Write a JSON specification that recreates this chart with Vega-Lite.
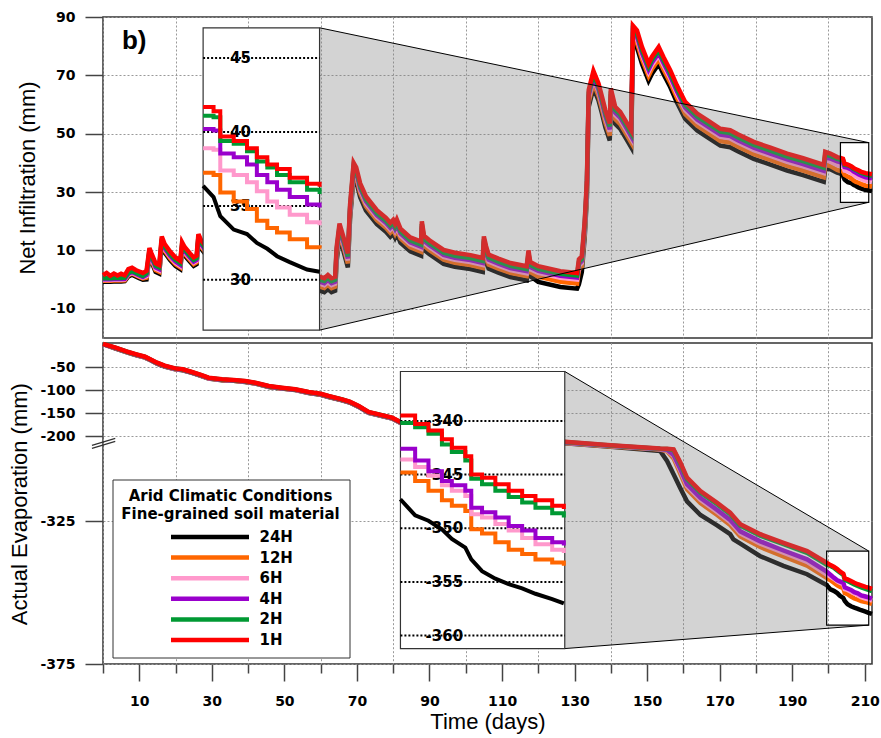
{
"$schema": "https://vega.github.io/schema/vega-lite/v6.json",
"padding": {"left": 8, "top": 9, "right": 5, "bottom": 5},
"spacing": -5,
"datasets": {
"top": [
{"t":0,"1H":1.5,"2H":0.5,"4H":0.1,"6H":-0.1,"12H":-0.4,"24H":-0.7},
{"t":1,"1H":2.3,"2H":0.5,"4H":0.1,"6H":-0.1,"12H":-0.4,"24H":-0.7},
{"t":2,"1H":1.3,"2H":0.5,"4H":0.1,"6H":-0.1,"12H":-0.4,"24H":-0.7},
{"t":3,"1H":2.1,"2H":0.6,"4H":0.2,"6H":0.0,"12H":-0.3,"24H":-0.6},
{"t":4,"1H":1.4,"2H":0.6,"4H":0.2,"6H":0.0,"12H":-0.3,"24H":-0.6},
{"t":5,"1H":2.0,"2H":0.6,"4H":0.2,"6H":0.0,"12H":-0.3,"24H":-0.6},
{"t":6,"1H":1.5,"2H":0.7,"4H":0.3,"6H":0.1,"12H":-0.2,"24H":-0.5},
{"t":7,"1H":3.6,"2H":2.4,"4H":2.0,"6H":1.8,"12H":1.5,"24H":1.1},
{"t":8,"1H":4.1,"2H":3.0,"4H":2.6,"6H":2.4,"12H":2.1,"24H":1.7},
{"t":9,"1H":3.3,"2H":2.4,"4H":2.0,"6H":1.8,"12H":1.5,"24H":1.1},
{"t":10,"1H":2.8,"2H":1.8,"4H":1.4,"6H":1.2,"12H":0.9,"24H":0.5},
{"t":11,"1H":2.3,"2H":1.3,"4H":0.9,"6H":0.7,"12H":0.4,"24H":0.0},
{"t":12,"1H":3.0,"2H":2.2,"4H":1.6,"6H":1.2,"12H":0.7,"24H":0.1},
{"t":12.8,"1H":10.8,"2H":10.0,"4H":9.4,"6H":9.0,"12H":8.5,"24H":7.9},
{"t":13.3,"1H":9.2,"2H":8.4,"4H":7.8,"6H":7.4,"12H":6.9,"24H":6.3},
{"t":14.5,"1H":5.6,"2H":4.8,"4H":4.2,"6H":3.8,"12H":3.3,"24H":2.7},
{"t":15.5,"1H":5.0,"2H":4.2,"4H":3.6,"6H":3.2,"12H":2.7,"24H":2.1},
{"t":16.2,"1H":14.8,"2H":14.0,"4H":13.4,"6H":13.0,"12H":12.5,"24H":11.9},
{"t":17,"1H":12.2,"2H":11.4,"4H":10.8,"6H":10.4,"12H":9.9,"24H":9.3},
{"t":18.5,"1H":9.6,"2H":8.8,"4H":8.2,"6H":7.8,"12H":7.3,"24H":6.7},
{"t":20,"1H":7.6,"2H":6.8,"4H":6.2,"6H":5.8,"12H":5.3,"24H":4.7},
{"t":21.3,"1H":6.5,"2H":5.7,"4H":5.1,"6H":4.7,"12H":4.2,"24H":3.6},
{"t":21.8,"1H":12.8,"2H":12.0,"4H":11.4,"6H":11.0,"12H":10.5,"24H":9.9},
{"t":22.5,"1H":11.2,"2H":10.4,"4H":9.8,"6H":9.4,"12H":8.9,"24H":8.3},
{"t":24,"1H":9.0,"2H":8.2,"4H":7.6,"6H":7.2,"12H":6.7,"24H":6.1},
{"t":25,"1H":7.6,"2H":6.8,"4H":6.2,"6H":5.8,"12H":5.3,"24H":4.7},
{"t":25.8,"1H":8.2,"2H":7.4,"4H":6.8,"6H":6.4,"12H":5.9,"24H":5.3},
{"t":26.3,"1H":15.6,"2H":14.8,"4H":14.2,"6H":13.8,"12H":13.3,"24H":12.7},
{"t":27,"1H":13.6,"2H":12.8,"4H":12.2,"6H":11.8,"12H":11.3,"24H":10.7},
{"t":28,"1H":12.0,"2H":11.2,"4H":10.6,"6H":10.2,"12H":9.7,"24H":9.1},
{"t":35,"1H":8.0,"2H":7.0,"4H":6.3,"6H":5.6,"12H":4.6,"24H":3.2},
{"t":45,"1H":4.0,"2H":3.0,"4H":2.3,"6H":1.6,"12H":0.6,"24H":-0.8},
{"t":55,"1H":2.0,"2H":1.0,"4H":0.3,"6H":-0.4,"12H":-1.4,"24H":-2.8},
{"t":59.7,"1H":1.0,"2H":0.0,"4H":-0.7,"6H":-1.4,"12H":-2.4,"24H":-3.8},
{"t":61,"1H":0.5,"2H":-0.5,"4H":-1.2,"6H":-1.9,"12H":-2.9,"24H":-4.3},
{"t":62,"1H":1.6,"2H":0.6,"4H":-0.1,"6H":-0.8,"12H":-1.8,"24H":-3.2},
{"t":63,"1H":0.5,"2H":-0.5,"4H":-1.2,"6H":-1.9,"12H":-2.9,"24H":-4.3},
{"t":64,"1H":1.0,"2H":0.0,"4H":-0.7,"6H":-1.4,"12H":-2.4,"24H":-3.8},
{"t":64.4,"1H":11.0,"2H":10.0,"4H":9.3,"6H":8.6,"12H":7.6,"24H":6.2},
{"t":65.2,"1H":19.2,"2H":18.2,"4H":17.5,"6H":16.8,"12H":15.8,"24H":14.4},
{"t":66.2,"1H":15.0,"2H":14.0,"4H":13.3,"6H":12.6,"12H":11.6,"24H":10.2},
{"t":67.5,"1H":9.0,"2H":8.0,"4H":7.3,"6H":6.6,"12H":5.6,"24H":4.2},
{"t":68.1,"1H":25.5,"2H":24.5,"4H":23.8,"6H":23.1,"12H":22.1,"24H":20.7},
{"t":69.1,"1H":40.0,"2H":39.0,"4H":38.3,"6H":37.6,"12H":36.6,"24H":35.2},
{"t":69.8,"1H":38.5,"2H":37.5,"4H":36.8,"6H":36.1,"12H":35.1,"24H":33.7},
{"t":70.9,"1H":33.0,"2H":32.0,"4H":31.3,"6H":30.6,"12H":29.6,"24H":28.2},
{"t":72.5,"1H":28.5,"2H":27.5,"4H":26.8,"6H":26.1,"12H":25.1,"24H":23.7},
{"t":75.5,"1H":23.8,"2H":22.8,"4H":22.1,"6H":21.4,"12H":20.4,"24H":19.0},
{"t":78,"1H":21.2,"2H":20.2,"4H":19.5,"6H":18.8,"12H":17.8,"24H":16.4},
{"t":79.2,"1H":19.5,"2H":18.5,"4H":17.8,"6H":17.1,"12H":16.1,"24H":14.7},
{"t":80,"1H":20.5,"2H":19.5,"4H":18.8,"6H":18.1,"12H":17.1,"24H":15.7},
{"t":80.5,"1H":19.2,"2H":18.2,"4H":17.5,"6H":16.8,"12H":15.8,"24H":14.4},
{"t":81,"1H":20.6,"2H":19.6,"4H":18.9,"6H":18.2,"12H":17.2,"24H":15.8},
{"t":82,"1H":17.5,"2H":16.5,"4H":15.8,"6H":15.1,"12H":14.1,"24H":12.7},
{"t":84.7,"1H":14.5,"2H":13.5,"4H":12.8,"6H":12.1,"12H":11.1,"24H":9.7},
{"t":87.7,"1H":13.0,"2H":12.0,"4H":11.3,"6H":10.6,"12H":9.6,"24H":8.2},
{"t":87.9,"1H":20.0,"2H":19.0,"4H":18.3,"6H":17.6,"12H":16.6,"24H":15.2},
{"t":88.5,"1H":15.0,"2H":14.0,"4H":13.3,"6H":12.6,"12H":11.6,"24H":10.2},
{"t":90,"1H":13.5,"2H":12.5,"4H":11.8,"6H":11.1,"12H":10.1,"24H":8.7},
{"t":93.9,"1H":10.2,"2H":9.2,"4H":8.5,"6H":7.8,"12H":6.8,"24H":5.4},
{"t":97,"1H":9.2,"2H":8.2,"4H":7.5,"6H":6.8,"12H":5.8,"24H":4.4},
{"t":101.3,"1H":8.4,"2H":7.4,"4H":6.7,"6H":6.0,"12H":5.0,"24H":3.6},
{"t":104.7,"1H":7.4,"2H":6.4,"4H":5.7,"6H":5.0,"12H":4.0,"24H":2.6},
{"t":105.0,"1H":14.8,"2H":13.8,"4H":13.1,"6H":12.4,"12H":11.4,"24H":10.0},
{"t":105.6,"1H":11.5,"2H":10.5,"4H":9.8,"6H":9.1,"12H":8.1,"24H":6.7},
{"t":106.3,"1H":8.6,"2H":7.6,"4H":6.9,"6H":6.2,"12H":5.2,"24H":3.8},
{"t":109,"1H":7.2,"2H":6.2,"4H":5.5,"6H":4.8,"12H":3.8,"24H":2.4},
{"t":112.3,"1H":5.7,"2H":4.7,"4H":4.0,"6H":3.3,"12H":2.3,"24H":0.9},
{"t":116.8,"1H":4.6,"2H":3.6,"4H":2.9,"6H":2.2,"12H":1.2,"24H":-0.2},
{"t":117.3,"1H":10.0,"2H":9.0,"4H":8.3,"6H":7.6,"12H":6.6,"24H":5.2},
{"t":117.8,"1H":6.0,"2H":5.0,"4H":4.3,"6H":3.6,"12H":2.6,"24H":1.2},
{"t":120,"1H":4.6,"2H":3.7,"4H":3.0,"6H":2.3,"12H":1.0,"24H":-0.8},
{"t":126.1,"1H":2.9,"2H":2.0,"4H":1.3,"6H":0.6,"12H":-0.7,"24H":-2.5},
{"t":130.7,"1H":2.3,"2H":1.4,"4H":0.7,"6H":0.0,"12H":-1.3,"24H":-3.1},
{"t":131.2,"1H":7.0,"2H":6.1,"4H":5.4,"6H":4.7,"12H":3.4,"24H":-1.6},
{"t":132.0,"1H":8.0,"2H":7.1,"4H":6.4,"6H":5.7,"12H":4.4,"24H":2.6},
{"t":132.8,"1H":20.0,"2H":19.1,"4H":18.4,"6H":17.7,"12H":16.4,"24H":14.6},
{"t":133.4,"1H":34.0,"2H":33.0,"4H":32.0,"6H":31.2,"12H":29.8,"24H":28.2},
{"t":133.9,"1H":65.0,"2H":64.0,"4H":63.0,"6H":62.2,"12H":60.8,"24H":59.2},
{"t":135.2,"1H":71.5,"2H":70.5,"4H":69.5,"6H":68.7,"12H":67.3,"24H":65.7},
{"t":136.6,"1H":67.2,"2H":66.2,"4H":65.2,"6H":64.4,"12H":63.0,"24H":61.4},
{"t":137.5,"1H":63.0,"2H":62.0,"4H":61.0,"6H":60.2,"12H":58.8,"24H":57.2},
{"t":138.5,"1H":58.0,"2H":57.0,"4H":56.0,"6H":55.2,"12H":53.8,"24H":52.2},
{"t":139.7,"1H":53.5,"2H":52.5,"4H":51.5,"6H":50.7,"12H":49.3,"24H":47.7},
{"t":140.0,"1H":65.5,"2H":64.5,"4H":63.5,"6H":62.7,"12H":61.3,"24H":59.7},
{"t":141.2,"1H":59.2,"2H":58.2,"4H":57.2,"6H":56.4,"12H":55.0,"24H":53.4},
{"t":142.6,"1H":57.5,"2H":56.5,"4H":55.5,"6H":54.7,"12H":53.3,"24H":51.7},
{"t":144.0,"1H":54.6,"2H":53.6,"4H":52.6,"6H":51.8,"12H":50.4,"24H":48.8},
{"t":145.6,"1H":51.2,"2H":50.2,"4H":49.2,"6H":48.4,"12H":47.0,"24H":45.4},
{"t":146.1,"1H":87.0,"2H":86.0,"4H":85.0,"6H":84.2,"12H":82.8,"24H":81.2},
{"t":147.2,"1H":85.4,"2H":84.4,"4H":83.4,"6H":82.6,"12H":81.2,"24H":79.6},
{"t":148.6,"1H":79.7,"2H":78.7,"4H":77.7,"6H":76.9,"12H":75.5,"24H":73.9},
{"t":150.4,"1H":74.0,"2H":73.0,"4H":72.0,"6H":71.2,"12H":69.8,"24H":68.2},
{"t":151.3,"1H":76.3,"2H":75.3,"4H":74.3,"6H":73.5,"12H":72.1,"24H":70.5},
{"t":153.2,"1H":79.7,"2H":78.7,"4H":77.7,"6H":76.9,"12H":75.5,"24H":73.9},
{"t":154.5,"1H":76.3,"2H":75.3,"4H":74.3,"6H":73.5,"12H":72.1,"24H":70.5},
{"t":156.4,"1H":71.7,"2H":70.7,"4H":69.7,"6H":68.9,"12H":67.5,"24H":65.9},
{"t":158.2,"1H":66.6,"2H":65.6,"4H":64.6,"6H":63.8,"12H":62.4,"24H":60.8},
{"t":160.5,"1H":60.9,"2H":59.9,"4H":58.9,"6H":58.1,"12H":56.7,"24H":55.1},
{"t":163.8,"1H":56.9,"2H":55.9,"4H":54.9,"6H":54.1,"12H":52.7,"24H":51.1},
{"t":167,"1H":54.3,"2H":53.3,"4H":52.3,"6H":51.5,"12H":50.1,"24H":48.5},
{"t":170.2,"1H":51.7,"2H":50.7,"4H":49.7,"6H":48.9,"12H":47.5,"24H":45.9},
{"t":172.9,"1H":51.2,"2H":50.2,"4H":49.2,"6H":48.4,"12H":47.0,"24H":45.4},
{"t":175,"1H":49.8,"2H":48.8,"4H":47.8,"6H":47.0,"12H":45.6,"24H":44.0},
{"t":179.4,"1H":47.2,"2H":46.2,"4H":45.2,"6H":44.4,"12H":43.0,"24H":41.4},
{"t":184,"1H":45.2,"2H":44.2,"4H":43.2,"6H":42.4,"12H":41.0,"24H":39.4},
{"t":188.6,"1H":43.2,"2H":42.2,"4H":41.2,"6H":40.4,"12H":39.0,"24H":37.4},
{"t":193,"1H":41.6,"2H":40.6,"4H":39.6,"6H":38.8,"12H":37.4,"24H":35.8},
{"t":198.7,"1H":39.3,"2H":38.3,"4H":37.3,"6H":36.5,"12H":35.1,"24H":33.5},
{"t":199.1,"1H":43.8,"2H":42.8,"4H":41.8,"6H":41.0,"12H":39.6,"24H":38.0},
{"t":200.5,"1H":43.2,"2H":42.4,"4H":41.5,"6H":40.4,"12H":38.9,"24H":37.8},
{"t":202.4,"1H":42.0,"2H":41.4,"4H":40.5,"6H":39.2,"12H":37.6,"24H":36.7},
{"t":203.3,"1H":41.7,"2H":41.1,"4H":40.2,"6H":38.9,"12H":37.25,"24H":36.35},
{"t":204.0,"1H":41.4,"2H":41.0,"4H":40.1,"6H":38.8,"12H":37.1,"24H":35.6},
{"t":204.45,"1H":39.7,"2H":39.4,"4H":38.55,"6H":37.4,"12H":35.9,"24H":34.3},
{"t":205.35,"1H":39.4,"2H":39.2,"4H":38.3,"6H":37.1,"12H":35.3,"24H":33.4},
{"t":206.24,"1H":38.9,"2H":38.7,"4H":37.8,"6H":36.6,"12H":34.8,"24H":33.1},
{"t":206.9,"1H":38.3,"2H":38.0,"4H":37.1,"6H":36.0,"12H":34.0,"24H":32.5},
{"t":207.6,"1H":37.8,"2H":37.6,"4H":36.6,"6H":35.3,"12H":33.5,"24H":32.1},
{"t":208.25,"1H":37.5,"2H":37.1,"4H":36.1,"6H":34.9,"12H":33.2,"24H":31.6},
{"t":209.1,"1H":36.9,"2H":36.6,"4H":35.6,"6H":34.4,"12H":32.75,"24H":31.2},
{"t":210.26,"1H":36.5,"2H":36.1,"4H":35.1,"6H":33.9,"12H":32.2,"24H":30.7},
{"t":211.1,"1H":36.3,"2H":35.8,"4H":34.9,"6H":33.7,"12H":32.1,"24H":30.55},
{"t":212,"1H":36.1,"2H":35.6,"4H":34.7,"6H":33.5,"12H":31.9,"24H":30.4}
],
"bot": [
{"t":0,"1H":0,"2H":0,"4H":-0.3,"6H":-0.4,"12H":-0.5,"24H":-0.6},
{"t":3.5,"1H":-8,"2H":-8.5,"4H":-9,"6H":-9.2,"12H":-9.5,"24H":-10},
{"t":7,"1H":-17.5,"2H":-18,"4H":-18.5,"6H":-18.7,"12H":-19,"24H":-19.5},
{"t":9,"1H":-22,"2H":-22.5,"4H":-23,"6H":-23.2,"12H":-23.5,"24H":-24},
{"t":11.6,"1H":-27.7,"2H":-28.2,"4H":-28.7,"6H":-28.9,"12H":-29.2,"24H":-29.7},
{"t":13,"1H":-33,"2H":-33.5,"4H":-34,"6H":-34.2,"12H":-34.5,"24H":-35},
{"t":14.9,"1H":-40.7,"2H":-41.2,"4H":-41.7,"6H":-41.9,"12H":-42.2,"24H":-42.7},
{"t":17,"1H":-47,"2H":-47.5,"4H":-48,"6H":-48.2,"12H":-48.5,"24H":-49},
{"t":19.9,"1H":-52.9,"2H":-53.4,"4H":-53.9,"6H":-54.1,"12H":-54.4,"24H":-54.9},
{"t":22,"1H":-55,"2H":-55.5,"4H":-56,"6H":-56.2,"12H":-56.5,"24H":-57},
{"t":24.5,"1H":-60.8,"2H":-61.3,"4H":-61.8,"6H":-62,"12H":-62.3,"24H":-62.8},
{"t":27,"1H":-67,"2H":-67.5,"4H":-68,"6H":-68.2,"12H":-68.5,"24H":-69},
{"t":29.1,"1H":-73.1,"2H":-73.6,"4H":-74.1,"6H":-74.3,"12H":-74.6,"24H":-75.1},
{"t":32.8,"1H":-76.6,"2H":-77.1,"4H":-77.6,"6H":-77.8,"12H":-78.1,"24H":-78.6},
{"t":36,"1H":-78,"2H":-78.5,"4H":-79,"6H":-79.2,"12H":-79.5,"24H":-80},
{"t":39.2,"1H":-80.3,"2H":-80.8,"4H":-81.3,"6H":-81.5,"12H":-81.8,"24H":-82.3},
{"t":42,"1H":-84,"2H":-84.5,"4H":-85,"6H":-85.2,"12H":-85.5,"24H":-86},
{"t":45.7,"1H":-91.1,"2H":-91.6,"4H":-92.1,"6H":-92.3,"12H":-92.6,"24H":-93.1},
{"t":49.3,"1H":-94.8,"2H":-95.3,"4H":-95.8,"6H":-96,"12H":-96.3,"24H":-96.8},
{"t":53,"1H":-98,"2H":-98.5,"4H":-99,"6H":-99.2,"12H":-99.5,"24H":-100},
{"t":56.7,"1H":-104.1,"2H":-104.6,"4H":-105.1,"6H":-105.3,"12H":-105.6,"24H":-106.1},
{"t":60,"1H":-108,"2H":-108.5,"4H":-109,"6H":-109.2,"12H":-109.5,"24H":-110},
{"t":62.2,"1H":-112.8,"2H":-113.3,"4H":-113.8,"6H":-114,"12H":-114.3,"24H":-114.8},
{"t":65.9,"1H":-119.9,"2H":-120.4,"4H":-120.9,"6H":-121.1,"12H":-121.4,"24H":-121.9},
{"t":68,"1H":-125,"2H":-125.5,"4H":-126,"6H":-126.2,"12H":-126.5,"24H":-127},
{"t":70.5,"1H":-134.4,"2H":-134.9,"4H":-135.4,"6H":-135.6,"12H":-135.9,"24H":-136.4},
{"t":73.2,"1H":-147.4,"2H":-147.9,"4H":-148.4,"6H":-148.6,"12H":-148.9,"24H":-149.4},
{"t":76,"1H":-152.4,"2H":-152.9,"4H":-153.4,"6H":-153.6,"12H":-153.9,"24H":-154.4},
{"t":79.7,"1H":-159.7,"2H":-160.2,"4H":-160.7,"6H":-160.9,"12H":-161.2,"24H":-161.7},
{"t":82,"1H":-169,"2H":-169.5,"4H":-170,"6H":-170.2,"12H":-170.5,"24H":-171},
{"t":90,"1H":-185,"2H":-185.5,"4H":-186,"6H":-186.2,"12H":-186.5,"24H":-187},
{"t":100,"1H":-199,"2H":-199.5,"4H":-200,"6H":-200.5,"12H":-201,"24H":-202},
{"t":110,"1H":-290,"2H":-290.5,"4H":-291,"6H":-291.5,"12H":-292,"24H":-293},
{"t":120,"1H":-296.5,"2H":-296.6,"4H":-296.7,"6H":-296.8,"12H":-296.9,"24H":-297.0},
{"t":127.3,"1H":-297.2,"2H":-297.3,"4H":-297.4,"6H":-297.5,"12H":-297.6,"24H":-297.7},
{"t":140,"1H":-298.4,"2H":-298.5,"4H":-298.6,"6H":-298.7,"12H":-298.8,"24H":-298.9},
{"t":153.6,"1H":-299.5,"2H":-299.6,"4H":-299.7,"6H":-299.8,"12H":-299.9,"24H":-300.4},
{"t":155.5,"1H":-299.6,"2H":-299.7,"4H":-300.0,"6H":-300.2,"12H":-300.5,"24H":-303.9},
{"t":157.3,"1H":-299.8,"2H":-300.1,"4H":-301.8,"6H":-302.2,"12H":-303.0,"24H":-308.5},
{"t":159.2,"1H":-304.5,"2H":-305.0,"4H":-306.8,"6H":-307.4,"12H":-308.5,"24H":-313.5},
{"t":161.0,"1H":-309.7,"2H":-310.2,"4H":-312.0,"6H":-312.7,"12H":-313.8,"24H":-318.0},
{"t":164.7,"1H":-314.4,"2H":-314.9,"4H":-316.8,"6H":-317.5,"12H":-318.6,"24H":-322.8},
{"t":169.3,"1H":-318.5,"2H":-319.0,"4H":-321.0,"6H":-321.7,"12H":-322.8,"24H":-326.4},
{"t":172.9,"1H":-322.0,"2H":-322.5,"4H":-324.5,"6H":-325.2,"12H":-326.3,"24H":-329.5},
{"t":173.8,"1H":-323.3,"2H":-323.8,"4H":-325.8,"6H":-326.5,"12H":-327.6,"24H":-331.3},
{"t":175.7,"1H":-326.0,"2H":-326.5,"4H":-328.5,"6H":-329.2,"12H":-330.3,"24H":-332.8},
{"t":181.2,"1H":-329.5,"2H":-330.0,"4H":-332.0,"6H":-332.8,"12H":-334.0,"24H":-337.2},
{"t":187.6,"1H":-332.5,"2H":-333.0,"4H":-335.2,"6H":-336.0,"12H":-337.3,"24H":-340.6},
{"t":194.1,"1H":-335.4,"2H":-336.0,"4H":-338.3,"6H":-339.2,"12H":-340.5,"24H":-343.5},
{"t":199.5,"1H":-339.5,"2H":-340.2,"4H":-342.6,"6H":-343.6,"12H":-344.8,"24H":-347.3},
{"t":200.54,"1H":-340.3,"2H":-340.6,"4H":-343.7,"6H":-344.3,"12H":-345.6,"24H":-348.8},
{"t":201.48,"1H":-340.9,"2H":-341.2,"4H":-344.7,"6H":-345.1,"12H":-346.5,"24H":-349.3},
{"t":202.43,"1H":-341.7,"2H":-342.2,"4H":-345.6,"6H":-346.0,"12H":-347.4,"24H":-350.1},
{"t":203.13,"1H":-342.5,"2H":-342.9,"4H":-346.0,"6H":-346.5,"12H":-347.9,"24H":-351.0},
{"t":204.08,"1H":-343.3,"2H":-343.7,"4H":-346.5,"6H":-347.0,"12H":-348.4,"24H":-351.8},
{"t":204.5,"1H":-345.0,"2H":-345.4,"4H":-348.1,"6H":-348.7,"12H":-350.1,"24H":-352.9},
{"t":205.26,"1H":-345.3,"2H":-345.9,"4H":-348.5,"6H":-349.0,"12H":-350.5,"24H":-354.0},
{"t":206.2,"1H":-345.9,"2H":-346.5,"4H":-349.0,"6H":-349.6,"12H":-351.3,"24H":-354.7},
{"t":207.14,"1H":-346.5,"2H":-347.1,"4H":-349.8,"6H":-350.2,"12H":-352.0,"24H":-355.2},
{"t":208.09,"1H":-347.0,"2H":-347.6,"4H":-350.2,"6H":-350.9,"12H":-352.4,"24H":-355.6},
{"t":209.03,"1H":-347.4,"2H":-348.1,"4H":-350.9,"6H":-351.5,"12H":-352.9,"24H":-356.1},
{"t":210.21,"1H":-347.9,"2H":-348.6,"4H":-351.3,"6H":-352.0,"12H":-353.2,"24H":-356.6},
{"t":211.03,"1H":-348.2,"2H":-349.0,"4H":-351.6,"6H":-352.3,"12H":-353.5,"24H":-357.0},
{"t":212,"1H":-348.6,"2H":-349.4,"4H":-352.0,"6H":-352.7,"12H":-353.9,"24H":-357.4}
],
"shadeTop": [
{"part":"a","x":59.7,"top":86.3,"bot":-17.3},
{"part":"a","x":203.3,"top":48.98,"bot":24.24},
{"part":"b","x":203.3,"top":48.98,"bot":46.95},
{"part":"b","x":211.1,"top":46.95,"bot":46.95},
{"part":"c","x":203.3,"top":26.5,"bot":24.24},
{"part":"c","x":211.1,"top":26.5,"bot":26.5}
],
"shadeBot": [
{"part":"a","x":127.3,"top":-59.7,"bot":-369.5},
{"part":"a","x":199.5,"top":-326.7,"bot":-362.4},
{"part":"b","x":199.5,"top":-326.7,"bot":-335.4},
{"part":"b","x":211.1,"top":-335.4,"bot":-335.4},
{"part":"c","x":199.5,"top":-361.3,"bot":-362.4},
{"part":"c","x":211.1,"top":-361.3,"bot":-361.3}
],
"ticksTop": [{"v":30,"label":"30"},{"v":35,"label":"35"},{"v":40,"label":"40"},{"v":45,"label":"45"}],
"ticksBot": [{"v":-340,"label":"-340"},{"v":-345,"label":"-345"},{"v":-350,"label":"-350"},{"v":-355,"label":"-355"},{"v":-360,"label":"-360"}]
},
"vconcat": [
{
"width": 769, "height": 321,
"resolve": {"scale": {"x": "independent", "y": "independent"}},
"layer": [
{"layer": [
{"data": {"name": "top"},
 "transform": [{"fold": ["24H","12H","6H","4H","2H","1H"], "as": ["series","value"]}],
 "mark": {"type": "line", "strokeWidth": 4.5},
 "encoding": {
  "x": {"field": "t", "type": "quantitative", "scale": {"domain": [0,212], "nice": false, "zero": false},
        "axis": {"values": [0,20,40,60,80,100,120,140,160,180,200], "labels": false, "ticks": false, "grid": true, "title": null, "minExtent": 0, "maxExtent": 0}},
  "y": {"field": "value", "type": "quantitative", "scale": {"domain": [-20,90], "nice": false, "zero": false},
        "axis": {"values": [-10,10,30,50,70,90], "tickSize": 18, "labelPadding": 10, "grid": true, "labelExpr": "'' + datum.value", "title": "Net Infiltration (mm)", "titlePadding": 10}},
  "color": {"field": "series", "type": "nominal", "scale": {"domain": ["24H","12H","6H","4H","2H","1H"], "range": ["#000000","#ff6600","#ff99cc","#9900cc","#009933","#ff0000"]}, "legend": null}
 }},
{"data": {"name": "shadeTop"},
 "mark": {"type": "area", "color": "#808080", "opacity": 0.35},
 "encoding": {
  "x": {"field": "x", "type": "quantitative"},
  "y": {"field": "top", "type": "quantitative", "stack": null},
  "y2": {"field": "bot"},
  "detail": {"field": "part"}
 }},
{"data": {"values": [{}]}, "mark": {"type": "rule", "color": "black", "strokeWidth": 1},
 "encoding": {"x": {"datum": 59.7}, "y": {"datum": 86.3}, "x2": {"datum": 211.1}, "y2": {"datum": 46.95}}},
{"data": {"values": [{}]}, "mark": {"type": "rule", "color": "black", "strokeWidth": 1},
 "encoding": {"x": {"datum": 59.7}, "y": {"datum": -17.3}, "x2": {"datum": 211.1}, "y2": {"datum": 26.5}}},
{"data": {"values": [{}]}, "mark": {"type": "rect", "fillOpacity": 0, "stroke": "black", "strokeWidth": 1.2},
 "encoding": {"x": {"datum": 203.3}, "x2": {"datum": 211.1}, "y": {"datum": 46.95}, "y2": {"datum": 26.5}}},
{"data": {"values": [{}]}, "mark": {"type": "rect", "fill": "white", "stroke": "#333", "strokeWidth": 1.2},
 "encoding": {"x": {"datum": 27.6}, "x2": {"datum": 59.7}, "y": {"datum": 86.3}, "y2": {"datum": -17.3}}},
{"data": {"values": [{}]}, "mark": {"type": "text", "text": "b)", "font": "Liberation Sans", "fontWeight": "bold", "fontSize": 26, "align": "center", "baseline": "middle", "color": "black"},
 "encoding": {"x": {"datum": 8.6}, "y": {"datum": 81.8}}}
]},
{"layer": [
{"data": {"name": "ticksTop"},
 "mark": {"type": "rule", "color": "black", "strokeWidth": 2, "strokeDash": [2,2]},
 "encoding": {
  "x": {"datum": 203.3, "scale": {"domain": [203.3,211.1], "range": [100.1,216.6], "nice": false, "zero": false}, "axis": null},
  "x2": {"datum": 211.1},
  "y": {"field": "v", "type": "quantitative", "scale": {"domain": [26.6,47.05], "range": [313.1,10.8], "nice": false, "zero": false}, "axis": null}
 }},
{"data": {"name": "ticksTop"},
 "mark": {"type": "text", "font": "DejaVu Sans", "fontWeight": "bold", "fontSize": 15, "color": "black", "align": "center", "baseline": "middle"},
 "encoding": {
  "x": {"datum": 205.8, "axis": null},
  "y": {"field": "v", "type": "quantitative", "axis": null},
  "text": {"field": "label"}
 }},
{"data": {"name": "top"},
 "transform": [{"filter": "datum.t >= 203.3 && datum.t <= 211.1"}, {"fold": ["24H"], "as": ["series","value"]}],
 "mark": {"type": "line", "strokeWidth": 4},
 "encoding": {
  "x": {"field": "t", "type": "quantitative", "axis": null},
  "y": {"field": "value", "type": "quantitative", "axis": null},
  "color": {"field": "series", "type": "nominal", "legend": null}
 }},
{"data": {"name": "top"},
 "transform": [{"filter": "datum.t >= 203.3 && datum.t <= 211.1"}, {"fold": ["12H","6H","4H","2H","1H"], "as": ["series","value"]}],
 "mark": {"type": "line", "strokeWidth": 4, "interpolate": "step-after"},
 "encoding": {
  "x": {"field": "t", "type": "quantitative", "axis": null},
  "y": {"field": "value", "type": "quantitative", "axis": null},
  "color": {"field": "series", "type": "nominal", "legend": null}
 }}
]}
]
},
{
"width": 769, "height": 321,
"resolve": {"scale": {"x": "independent", "y": "independent"}},
"layer": [
{"resolve": {"axis": {"x": "independent"}},
 "layer": [
{"data": {"name": "bot"},
 "transform": [{"fold": ["24H","12H","6H","4H","2H","1H"], "as": ["series","value"]}],
 "mark": {"type": "line", "strokeWidth": 4.5},
 "encoding": {
  "x": {"field": "t", "type": "quantitative", "scale": {"domain": [0,212], "nice": false, "zero": false},
        "axis": {"orient": "bottom", "values": [10,30,50,70,90,110,130,150,170,190,210],
                 "labelExpr": "'' + datum.value", "labelOverlap": false, "labelBound": false,
                 "tickSize": 17, "grid": false,
                 "labelPadding": 13, "title": "Time (days)", "titlePadding": 3}},
  "y": {"field": "value", "type": "quantitative", "scale": {"domain": [-375,-296,-200,2], "range": [321.3,95.4,93.3,0], "nice": false, "zero": false},
        "axis": {"values": [-50,-100,-150,-200,-325,-375], "tickSize": 18, "labelPadding": 10, "grid": true, "labelExpr": "'' + datum.value", "title": "Actual Evaporation (mm)", "titlePadding": 8}},
  "color": {"field": "series", "type": "nominal", "scale": {"domain": ["24H","12H","6H","4H","2H","1H"], "range": ["#000000","#ff6600","#ff99cc","#9900cc","#009933","#ff0000"]},
   "legend": {"orient": "none", "legendX": 9.5, "legendY": 136.5,
     "title": ["Arid Climatic Conditions", "Fine-grained soil material"],
     "titleFont": "DejaVu Sans", "titleFontSize": 15, "titleFontWeight": "bold", "titleColor": "black", "titleLimit": 400,
     "titleAnchor": "middle", "titleAlign": "center", "titleLineHeight": 18.5, "titlePadding": 7,
     "labelFont": "DejaVu Sans", "labelFontSize": 15, "labelFontWeight": "bold", "labelColor": "black",
     "symbolType": "stroke", "symbolSize": 6084, "symbolStrokeWidth": 4.5, "clipHeight": 16, "rowPadding": 4.6,
     "labelOffset": 8, "padding": 9, "fillColor": "white", "strokeColor": "#333"}}
 }},
{"data": {"name": "shadeBot"},
 "mark": {"type": "area", "color": "#808080", "opacity": 0.35},
 "encoding": {
  "x": {"field": "x", "type": "quantitative",
        "axis": {"orient": "bottom", "values": [0,20,40,60,80,100,120,140,160,180,200], "labels": false, "tickSize": 9, "grid": true, "title": null}},
  "y": {"field": "top", "type": "quantitative", "stack": null},
  "y2": {"field": "bot"},
  "detail": {"field": "part"}
 }},
{"data": {"values": [{}]}, "mark": {"type": "rule", "color": "black", "strokeWidth": 1},
 "encoding": {"x": {"datum": 127.3, "axis": null}, "y": {"datum": -59.7}, "x2": {"datum": 211.1}, "y2": {"datum": -335.4}}},
{"data": {"values": [{}]}, "mark": {"type": "rule", "color": "black", "strokeWidth": 1},
 "encoding": {"x": {"datum": 127.3, "axis": null}, "y": {"datum": -369.5}, "x2": {"datum": 211.1}, "y2": {"datum": -361.3}}},
{"data": {"values": [{}]}, "mark": {"type": "rect", "fillOpacity": 0, "stroke": "black", "strokeWidth": 1.2},
 "encoding": {"x": {"datum": 199.5, "axis": null}, "x2": {"datum": 211.1}, "y": {"datum": -335.4}, "y2": {"datum": -361.3}}},
{"data": {"values": [{}]}, "mark": {"type": "rect", "fill": "white", "stroke": "#333", "strokeWidth": 1.2},
 "encoding": {"x": {"datum": 82.0, "axis": null}, "x2": {"datum": 127.3}, "y": {"datum": -59.7}, "y2": {"datum": -369.5}}},
{"data": {"values": [{}]}, "mark": {"type": "rule", "color": "#333", "strokeWidth": 1.3},
 "encoding": {"x": {"datum": -3.05, "axis": null}, "y": {"datum": -298.4}, "x2": {"datum": 3.38}, "y2": {"datum": -296.0}}},
{"data": {"values": [{}]}, "mark": {"type": "rule", "color": "#333", "strokeWidth": 1.3},
 "encoding": {"x": {"datum": -3.05, "axis": null}, "y": {"datum": -299.45}, "x2": {"datum": 3.38}, "y2": {"datum": -297.0}}}
]},
{"layer": [
{"data": {"name": "ticksBot"},
 "mark": {"type": "rule", "color": "black", "strokeWidth": 2, "strokeDash": [2,2]},
 "encoding": {
  "x": {"datum": 199.5, "scale": {"domain": [199.5,211.1], "range": [297.4,461.8], "nice": false, "zero": false}, "axis": null},
  "x2": {"datum": 211.1},
  "y": {"field": "v", "type": "quantitative", "scale": {"domain": [-361.2,-335.4], "range": [305.5,28.5], "nice": false, "zero": false}, "axis": null}
 }},
{"data": {"name": "ticksBot"},
 "mark": {"type": "text", "font": "DejaVu Sans", "fontWeight": "bold", "fontSize": 15, "color": "black", "align": "center", "baseline": "middle"},
 "encoding": {
  "x": {"datum": 202.6, "axis": null},
  "y": {"field": "v", "type": "quantitative", "axis": null},
  "text": {"field": "label"}
 }},
{"data": {"name": "bot"},
 "transform": [{"filter": "datum.t >= 199.5 && datum.t <= 211.1"}, {"fold": ["24H"], "as": ["series","value"]}],
 "mark": {"type": "line", "strokeWidth": 4},
 "encoding": {
  "x": {"field": "t", "type": "quantitative", "axis": null},
  "y": {"field": "value", "type": "quantitative", "axis": null},
  "color": {"field": "series", "type": "nominal"}
 }},
{"data": {"name": "bot"},
 "transform": [{"filter": "datum.t >= 199.5 && datum.t <= 211.1"}, {"fold": ["12H","6H","4H","2H","1H"], "as": ["series","value"]}],
 "mark": {"type": "line", "strokeWidth": 4, "interpolate": "step-after"},
 "encoding": {
  "x": {"field": "t", "type": "quantitative", "axis": null},
  "y": {"field": "value", "type": "quantitative", "axis": null},
  "color": {"field": "series", "type": "nominal"}
 }}
]}
]
}
],
"resolve": {"scale": {"color": "independent"}},
"config": {
 "view": {"stroke": "#333", "strokeWidth": 1.5},
 "axis": {"labelFont": "DejaVu Sans", "labelFontWeight": "bold", "labelFontSize": 14, "labelColor": "black",
          "domain": false, "tickColor": "#444", "tickWidth": 1.5,
          "gridColor": "#999", "gridDash": [2,2], "gridWidth": 1,
          "titleFont": "Liberation Sans", "titleFontWeight": "normal", "titleFontSize": 22, "titleColor": "black"}
}
}
